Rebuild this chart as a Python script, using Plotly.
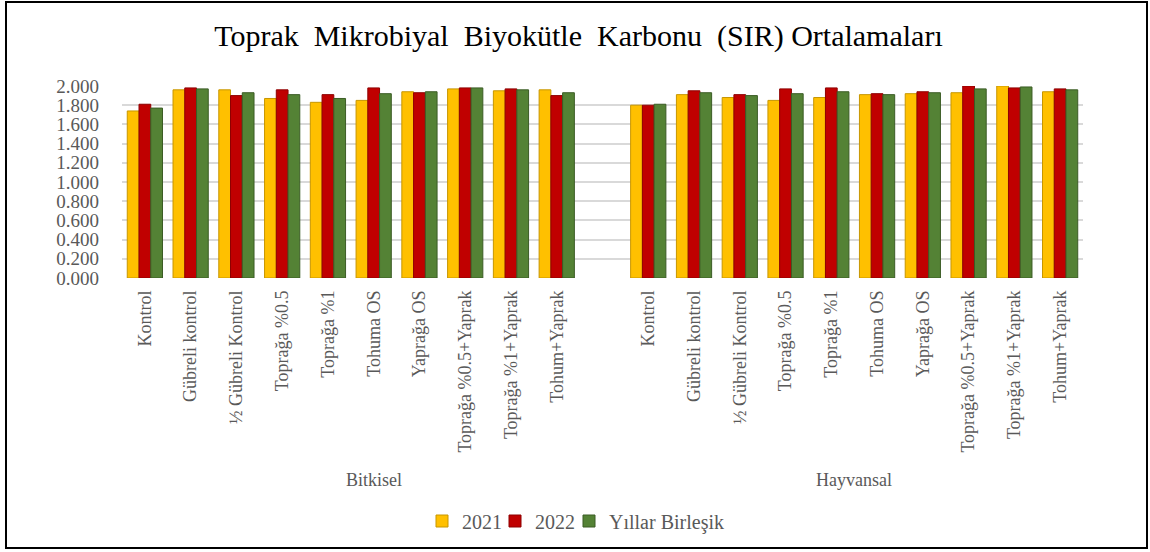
import plotly.graph_objects as go

groups = ["Bitkisel", "Hayvansal"]
treatments = ["Kontrol", "Gübreli kontrol", "½ Gübreli Kontrol", "Toprağa %0.5", "Toprağa %1",
              "Tohuma OS", "Yaprağa OS", "Toprağa %0.5+Yaprak", "Toprağa %1+Yaprak", "Tohum+Yaprak"]

# Bitkisel
bitkisel_2021 = [1.74, 1.96, 1.96, 1.87, 1.83, 1.85, 1.94, 1.97, 1.95, 1.96]
bitkisel_2022 = [1.81, 1.98, 1.90, 1.96, 1.91, 1.98, 1.93, 1.98, 1.97, 1.90]
bitkisel_birlesik = [1.77, 1.97, 1.93, 1.91, 1.87, 1.92, 1.94, 1.98, 1.96, 1.93]

# Hayvansal
hayvansal_2021 = [1.80, 1.91, 1.88, 1.85, 1.88, 1.91, 1.92, 1.93, 2.00, 1.94]
hayvansal_2022 = [1.80, 1.95, 1.91, 1.97, 1.98, 1.92, 1.94, 2.00, 1.98, 1.97]
hayvansal_birlesik = [1.81, 1.93, 1.90, 1.92, 1.94, 1.91, 1.93, 1.97, 1.99, 1.96]

series_names = ["2021", "2022", "Yıllar Birleşik"]
colors = ["#FFC000", "#C00000", "#548235"]
edge_colors = ["#C79600", "#8E0000", "#3B5C25"]

SERIF = "Liberation Serif, Times New Roman, serif"
GREY = "#595959"

# plot area in pixels (used for margins, annotations and the outer frame)
L, R, T, B = 122, 1083, 86, 278
W, H = 1150, 552
pw, ph = R - L, B - T

# category keys: Bitkisel, one empty slot, then Hayvansal (zero-width suffix keeps keys unique)
ZW = "\u200b"
keys_b = treatments
keys_h = [t + ZW for t in treatments]
blank = ZW
categories = keys_b + [blank] + keys_h

series = [
    bitkisel_2021 + [None] + hayvansal_2021,
    bitkisel_2022 + [None] + hayvansal_2022,
    bitkisel_birlesik + [None] + hayvansal_birlesik,
]

# one legend per series so the entries sit as tight as in the original
legend_ids = ["legend", "legend2", "legend3"]
legend_left_px = [422, 495, 569]

fig = go.Figure()
for name, vals, c, ec, lg in zip(series_names, series, colors, edge_colors, legend_ids):
    fig.add_trace(go.Bar(
        x=categories, y=vals, name=name, legend=lg,
        marker=dict(color=c, line=dict(color=ec, width=1)),
    ))

legend_style = dict(orientation="h", xanchor="left", y=(B - 521) / ph, yanchor="middle",
                    font=dict(family=SERIF, size=20, color=GREY), itemwidth=30,
                    bgcolor="rgba(0,0,0,0)")

fig.update_layout(
    width=W, height=H,
    paper_bgcolor="white", plot_bgcolor="white",
    margin=dict(l=L, r=W - R, t=T, b=H - B, autoexpand=False),
    barmode="group", bargap=0.23, bargroupgap=0,
    title=dict(text="Toprak  Mikrobiyal  Biyokütle  Karbonu  (SIR) Ortalamaları",
               x=0.503, xanchor="center", y=1 - 35 / H, yanchor="middle",
               font=dict(family=SERIF, size=30, color="black")),
    font=dict(family=SERIF, color=GREY),
    showlegend=True,
)
for lg, px_left in zip(legend_ids, legend_left_px):
    fig.update_layout({lg: dict(legend_style, x=(px_left - L) / pw)})

fig.update_yaxes(
    range=[0, 2.0], dtick=0.2, tickformat=".3f",
    showgrid=True, gridcolor="#D9D9D9", gridwidth=1.5,
    zeroline=False, showline=False,
    ticks="", ticklabelstandoff=22,
    tickfont=dict(family=SERIF, size=19, color=GREY),
)
fig.update_xaxes(
    type="category", categoryorder="array", categoryarray=categories,
    tickangle=-90, showline=False, ticks="", showgrid=False, ticklabelstandoff=8,
    tickfont=dict(family=SERIF, size=18, color=GREY),
)

# group labels under the category names
fig.add_annotation(x=categories[5], xref="x", y=(B - 480) / ph, yref="paper",
                   text=groups[0], showarrow=False, xanchor="center", yanchor="middle",
                   font=dict(family=SERIF, size=18, color=GREY))
fig.add_annotation(x=keys_h[4], xref="x", xshift=pw / len(categories) / 2,
                   y=(B - 480) / ph, yref="paper",
                   text=groups[1], showarrow=False, xanchor="center", yanchor="middle",
                   font=dict(family=SERIF, size=18, color=GREY))

# frame around the whole chart
fig.add_shape(type="rect", xref="paper", yref="paper",
              x0=(6 - L) / pw, x1=(1147 - L) / pw,
              y0=(B - 548) / ph, y1=(B - 2) / ph,
              line=dict(color="black", width=2), fillcolor="rgba(0,0,0,0)", layer="below")

fig.write_html("out.html", config={"displayModeBar": False},
               post_script="document.body.style.margin='0';")
